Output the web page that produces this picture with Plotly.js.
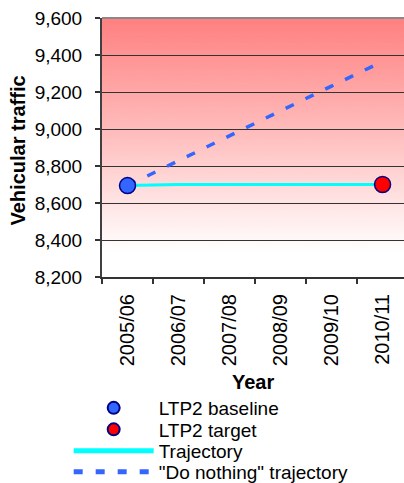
<!DOCTYPE html>
<html>
<head>
<meta charset="utf-8">
<script src="https://cdn.plot.ly/plotly-3.0.1.min.js"></script>
<style>
html,body{margin:0;padding:0;background:#fff;}
#chart{width:404px;height:483px;}
</style>
</head>
<body>
<div id="chart"></div>
<script>
// ---- data ----
var years = ['2005/06','2006/07','2007/08','2008/09','2009/10','2010/11'];
var baselineYear = ['2005/06'];
var baselineValue = [8694];
var targetYear = ['2010/11'];
var targetValue = [8700];
var trajectory = [8694, 8700, 8700, 8700, 8700, 8700];
var doNothing = [8694, 8830, 8963, 9098, 9232, 9365];
var yTicks = [8200, 8400, 8600, 8800, 9000, 9200, 9400, 9600];

// ---- gradient background ----
var cv = document.createElement('canvas');
cv.width = 50; cv.height = 260;
var ctx = cv.getContext('2d');
var g = ctx.createLinearGradient(0, 0, 0, 260);
g.addColorStop(0, 'rgb(255,128,128)');
g.addColorStop(0.45, 'rgb(255,190,190)');
g.addColorStop(0.9, 'rgb(255,255,255)');
g.addColorStop(1, 'rgb(255,255,255)');
ctx.fillStyle = g;
ctx.fillRect(0, 0, 50, 260);
var bgUrl = cv.toDataURL('image/png');

var font = 'Liberation Sans, Arial, sans-serif';
var W = 404, H = 483;
var ML = 102, MT = 18, MB = 206;
var PW = W - ML, PH = H - MT - MB;
function px(xpx) { return (xpx - ML) / PW; }
function py(ypx) { return (H - MB - ypx) / PH; }

var traces = [
  {
    x: years, y: doNothing, type: 'scatter', mode: 'lines',
    name: '"Do nothing" trajectory', legend: 'legend4',
    line: {color: '#3366FF', width: 3.5, dash: '9px,13px'}
  },
  {
    x: years, y: trajectory, type: 'scatter', mode: 'lines',
    name: 'Trajectory', legend: 'legend3',
    line: {color: '#00FFFF', width: 3}
  },
  {
    x: baselineYear, y: baselineValue, type: 'scatter', mode: 'markers',
    name: 'LTP2 baseline', legend: 'legend',
    marker: {color: '#3366FF', size: 16, line: {color: '#000080', width: 1.5}}
  },
  {
    x: targetYear, y: targetValue, type: 'scatter', mode: 'markers',
    name: 'LTP2 target', legend: 'legend2',
    marker: {color: '#FF0000', size: 16, line: {color: '#000080', width: 1.5}}
  }
];

function legendAt(yc) {
  return {
    xref: 'container', yref: 'container',
    x: 0.17, y: 1 - yc / H, xanchor: 'left', yanchor: 'middle',
    bgcolor: 'rgba(0,0,0,0)', borderwidth: 0,
    itemwidth: 80, itemsizing: 'constant',
    font: {family: font, size: 19, color: '#000000'}
  };
}

var layout = {
  width: W, height: H,
  margin: {l: ML, r: 0, t: MT, b: MB, autoexpand: false},
  paper_bgcolor: '#ffffff',
  plot_bgcolor: 'rgba(0,0,0,0)',
  font: {family: font, color: '#000000', size: 19},
  showlegend: true,
  images: [{
    source: bgUrl, xref: 'paper', yref: 'paper',
    x: 0, y: 1, sizex: 1, sizey: 1, sizing: 'stretch',
    xanchor: 'left', yanchor: 'top', layer: 'below'
  }],
  shapes: [{
    type: 'line', xref: 'paper', yref: 'paper', x0: 0, x1: 1, y0: 1, y1: 1,
    line: {color: '#888888', width: 2}
  }],
  annotations: [
    {
      text: '<b>Vehicular traffic</b>', textangle: -90,
      xref: 'paper', yref: 'paper',
      x: px(17.5), y: py(151), xanchor: 'center', yanchor: 'middle',
      showarrow: false, font: {family: font, size: 20, color: '#000000'}
    },
    {
      text: '<b>Year</b>',
      xref: 'paper', yref: 'paper',
      x: px(253), y: py(382), xanchor: 'center', yanchor: 'middle',
      showarrow: false, font: {family: font, size: 20, color: '#000000'}
    }
  ],
  xaxis: {
    type: 'category',
    categoryorder: 'array', categoryarray: years,
    range: [-0.5, 5.42],
    tickmode: 'linear', tick0: 0, dtick: 1,
    tickangle: -90,
    tickson: 'boundaries',
    ticks: 'outside', ticklen: 5, tickcolor: '#333333', tickwidth: 1.5,
    ticklabelstandoff: 7,
    showline: true, linecolor: '#333333', linewidth: 2,
    showgrid: false, zeroline: false, automargin: false,
    tickfont: {family: font, size: 20, color: '#000000'},
    fixedrange: true
  },
  yaxis: {
    range: [8200, 9600],
    tickvals: yTicks,
    tickformat: ',d',
    ticks: 'outside', ticklen: 5, tickcolor: '#333333', tickwidth: 1.5,
    ticklabelstandoff: 9,
    showline: true, linecolor: '#404040', linewidth: 2,
    showgrid: true, gridcolor: '#333333', gridwidth: 1,
    zeroline: false, automargin: false,
    tickfont: {family: font, size: 19, color: '#000000'},
    fixedrange: true
  },
  legend: legendAt(408),
  legend2: legendAt(429.5),
  legend3: legendAt(451),
  legend4: legendAt(472)
};

Plotly.newPlot('chart', traces, layout, {displayModeBar: false, staticPlot: true});
</script>
</body>
</html>
